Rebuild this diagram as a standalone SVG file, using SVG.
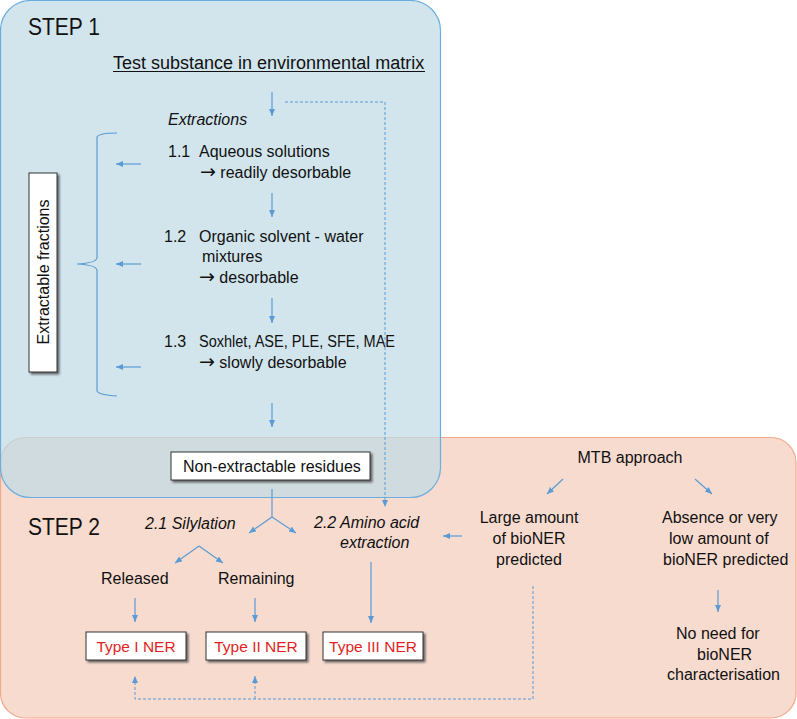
<svg xmlns="http://www.w3.org/2000/svg" width="797" height="719" viewBox="0 0 797 719">
<style>
text{font-family:"Liberation Sans",Arial,sans-serif;font-size:16px;fill:#111}
.step{font-size:23px}
.big{font-size:18px}
.it{font-style:italic}
.red{fill:#e21f26;font-size:15.5px}
.ar{font-family:"DejaVu Sans",sans-serif;font-size:19px}
.box{fill:#fff;stroke:#333;stroke-width:1;filter:url(#sh)}
.ln{fill:none;stroke:#5b9bd5;stroke-width:1.2}
.arr{marker-end:url(#ah)}
.dash{stroke-dasharray:3,2;stroke-width:1}
</style>
<defs>
<marker id="ah" markerUnits="userSpaceOnUse" markerWidth="8" markerHeight="7" refX="7" refY="3" orient="auto">
<path d="M0,0 L7,3 L0,6 z" fill="#5b9bd5"/>
</marker>
<filter id="sh" x="-10%" y="-10%" width="130%" height="150%">
<feDropShadow dx="2" dy="2" stdDeviation="1" flood-color="#444" flood-opacity="0.8"/>
</filter>
</defs>

<g id="step2">
<rect x="0.5" y="437.5" width="795.5" height="280.5" rx="25" fill="#f7dbcf" stroke="#f1a98c" stroke-width="1.2"/>
</g>
<g id="step1">
<rect x="0.5" y="0.5" width="440" height="497" rx="30" fill="#c0dae6" fill-opacity="0.71" stroke="#6aaee0" stroke-width="1.2"/>
</g>

<g id="labels">
<text class="step" x="28" y="35" textLength="72" lengthAdjust="spacingAndGlyphs">STEP 1</text>
<text class="step" x="28" y="535" textLength="72" lengthAdjust="spacingAndGlyphs">STEP 2</text>
</g>

<g id="test-substance">
<text class="big" x="113" y="69">Test substance in environmental matrix</text>
<line x1="113" y1="71.5" x2="425" y2="71.5" stroke="#111" stroke-width="1"/>
</g>

<g id="extractions">
<text class="it" x="168" y="125">Extractions</text>
</g>
<g id="e11">
<text x="168" y="157">1.1</text>
<text x="199" y="157">Aqueous solutions</text>
<text x="200" y="178"><tspan class="ar">→</tspan> readily desorbable</text>
</g>
<g id="e12">
<text x="164" y="242">1.2</text>
<text x="199" y="242">Organic solvent - water</text>
<text x="202" y="262">mixtures</text>
<text x="199" y="283"><tspan class="ar">→</tspan> desorbable</text>
</g>
<g id="e13">
<text x="164" y="347">1.3</text>
<text x="199" y="347" textLength="196" lengthAdjust="spacingAndGlyphs">Soxhlet, ASE, PLE, SFE, MAE</text>
<text x="199" y="368"><tspan class="ar">→</tspan> slowly desorbable</text>
</g>

<g id="extractable-fractions">
<rect class="box" x="29" y="173" width="28" height="199"/>
<text x="0" y="0" text-anchor="middle" transform="translate(49,272) rotate(-90)">Extractable fractions</text>
</g>

<g id="ner">
<rect class="box" x="171" y="452" width="199" height="28"/>
<text x="183" y="472">Non-extractable residues</text>
</g>

<g id="silylation">
<text class="it" x="145" y="529">2.1 Silylation</text>
</g>
<g id="amino">
<text class="it" x="314" y="528">2.2 Amino acid</text>
<text class="it" x="340" y="548">extraction</text>
</g>
<g id="released"><text x="101" y="584">Released</text></g>
<g id="remaining"><text x="218" y="584">Remaining</text></g>

<g id="type1">
<rect class="box" x="86" y="632" width="100" height="28"/>
<text class="red" x="136" y="652" text-anchor="middle">Type I NER</text>
</g>
<g id="type2">
<rect class="box" x="206" y="632" width="100" height="28"/>
<text class="red" x="256" y="652" text-anchor="middle">Type II NER</text>
</g>
<g id="type3">
<rect class="box" x="323" y="632" width="100" height="28"/>
<text class="red" x="373" y="652" text-anchor="middle">Type III NER</text>
</g>

<g id="mtb"><text x="630" y="463" text-anchor="middle">MTB approach</text></g>
<g id="large">
<text x="529" y="523" text-anchor="middle">Large amount</text>
<text x="529" y="544" text-anchor="middle">of bioNER</text>
<text x="529" y="565" text-anchor="middle">predicted</text>
</g>
<g id="absence">
<text x="662" y="523">Absence or very</text>
<text x="669" y="544">low amount of</text>
<text x="663" y="565">bioNER predicted</text>
</g>
<g id="noneed">
<text x="676" y="639">No need for</text>
<text x="697" y="660">bioNER</text>
<text x="667" y="680">characterisation</text>
</g>

<g id="connectors">
<line class="ln arr" x1="272" y1="92" x2="272" y2="116"/>
<polyline class="ln dash arr" points="285,102 385,102 385,507"/>
<line class="ln arr" x1="272" y1="193" x2="272" y2="217"/>
<line class="ln arr" x1="272" y1="298" x2="272" y2="323"/>
<line class="ln arr" x1="272" y1="403" x2="272" y2="427"/>
<line class="ln arr" x1="141" y1="164" x2="116" y2="164"/>
<line class="ln arr" x1="141" y1="264" x2="116" y2="264"/>
<line class="ln arr" x1="141" y1="367" x2="116" y2="367"/>
<path class="ln" d="M117,133 Q99,133 97,137 L97,258 Q96,263 77,264 Q96,265 97,270 L97,391 Q99,395 117,396"/>
<line class="ln" x1="272" y1="489" x2="272" y2="517"/>
<line class="ln arr" x1="272" y1="517" x2="249" y2="533"/>
<line class="ln arr" x1="272" y1="517" x2="296" y2="533"/>
<line class="ln arr" x1="199" y1="546" x2="175" y2="563"/>
<line class="ln arr" x1="199" y1="546" x2="223" y2="563"/>
<line class="ln arr" x1="135" y1="598" x2="135" y2="622"/>
<line class="ln arr" x1="255" y1="598" x2="255" y2="622"/>
<line class="ln arr" x1="371" y1="562" x2="371" y2="623"/>
<polyline class="ln dash arr" points="533,586 533,699 135,699 135,676"/>
<line class="ln dash arr" x1="255" y1="699" x2="255" y2="676"/>
<line class="ln arr" x1="462" y1="536" x2="443" y2="536"/>
<line class="ln arr" x1="563" y1="479" x2="547" y2="494"/>
<line class="ln arr" x1="695" y1="479" x2="712" y2="494"/>
<line class="ln arr" x1="718" y1="590" x2="718" y2="612"/>
</g>
</svg>
